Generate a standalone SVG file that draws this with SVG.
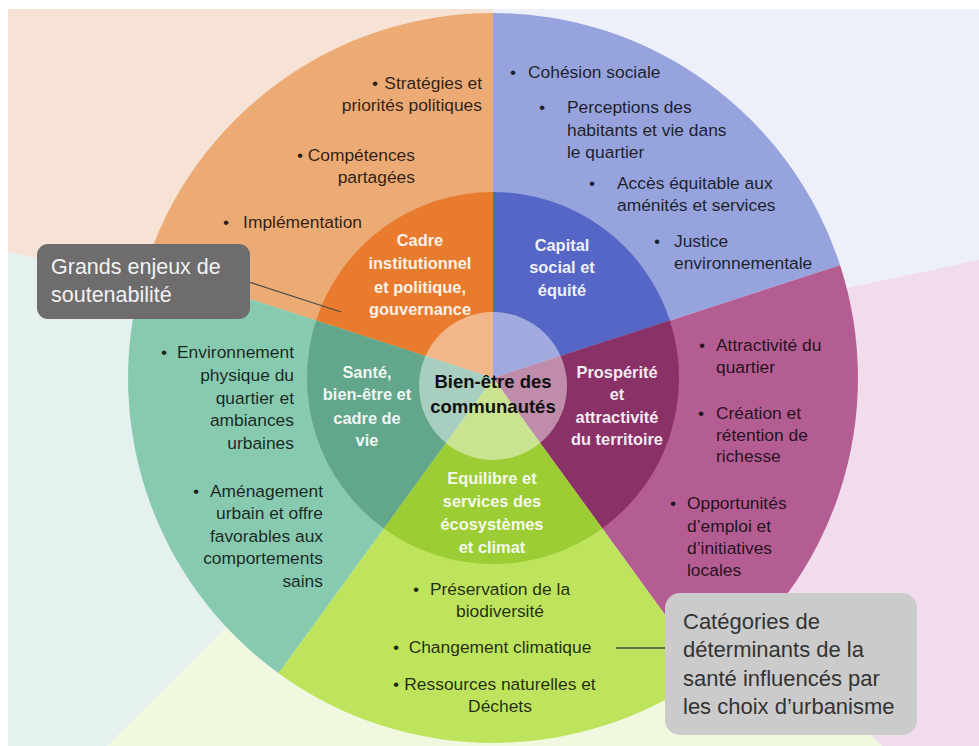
<svg xmlns="http://www.w3.org/2000/svg" width="979" height="746" viewBox="0 0 979 746">
<style>
.t{font-family:"Liberation Sans",Arial,sans-serif;font-size:17.4px;fill:#000;fill-opacity:0.82}
.e{text-anchor:end}
.m{text-anchor:middle}
.b{font-family:"Liberation Sans",Arial,sans-serif;font-size:16.4px;font-weight:bold;fill:#fff;fill-opacity:0.92;text-anchor:middle}
.c{font-family:"Liberation Sans",Arial,sans-serif;font-size:18.5px;font-weight:bold;fill:#111;text-anchor:middle}
</style>
<rect x="0" y="0" width="979" height="746" fill="#fff"/>
<g id="background">
<polygon points="8,9 493,9 493,362 8,252" fill="#F7E3D5"/>
<polygon points="493,9 979,9 979,260 493,362" fill="#EEF0F9"/>
<polygon points="979,260 979,746 882,746 493,362" fill="#F1DCEB"/>
<polygon points="882,746 107,746 493,362" fill="#F0F8E0"/>
<polygon points="107,746 8,746 8,252 493,362" fill="#E4F1EE"/>
</g>
<g id="node-cadre">
<path d="M493,378 L145.9,265.2 A365,365 0 0 1 493,13 Z" fill="#ECAA74"/>
<path d="M493,378 L316.1,320.5 A186,186 0 0 1 493,192 Z" fill="#E87B2D"/>
<text class="t" x="372" y="89">•</text>
<text class="t e" x="482" y="89">Stratégies et</text>
<text class="t e" x="482" y="111">priorités politiques</text>
<text class="t" x="297" y="161">•</text>
<text class="t e" x="415" y="161">Compétences</text>
<text class="t e" x="415" y="183">partagées</text>
<text class="t" x="223" y="228">•</text>
<text class="t e" x="362" y="228">Implémentation</text>
<text class="b" x="420" y="246">Cadre</text>
<text class="b" x="420" y="269">institutionnel</text>
<text class="b" x="420" y="293">et politique,</text>
<text class="b" x="420" y="315">gouvernance</text>
</g>
<g id="node-capital">
<path d="M493,378 L493,13 A365,365 0 0 1 840.1,265.2 Z" fill="#97A3DC"/>
<path d="M493,378 L493,192 A186,186 0 0 1 669.9,320.5 Z" fill="#5666C7"/>
<text class="t" x="510" y="78">•</text>
<text class="t" x="528" y="78">Cohésion sociale</text>
<text class="t" x="539" y="113">•</text>
<text class="t" x="567" y="113">Perceptions des</text>
<text class="t" x="567" y="136">habitants et vie dans</text>
<text class="t" x="567" y="158">le quartier</text>
<text class="t" x="589" y="189">•</text>
<text class="t" x="617" y="189">Accès équitable aux</text>
<text class="t" x="617" y="211">aménités et services</text>
<text class="t" x="654" y="247">•</text>
<text class="t" x="674" y="247">Justice</text>
<text class="t" x="674" y="269">environnementale</text>
<text class="b" x="562" y="251">Capital</text>
<text class="b" x="562" y="273">social et</text>
<text class="b" x="562" y="296">équité</text>
</g>
<g id="node-prosperite">
<path d="M493,378 L840.1,265.2 A365,365 0 0 1 707.5,673.3 Z" fill="#B45D93"/>
<path d="M493,378 L669.9,320.5 A186,186 0 0 1 602.3,528.5 Z" fill="#8A3167"/>
<text class="t" x="699" y="351">•</text>
<text class="t" x="716" y="351">Attractivité du</text>
<text class="t" x="716" y="373">quartier</text>
<text class="t" x="698" y="419">•</text>
<text class="t" x="716" y="419">Création et</text>
<text class="t" x="716" y="441">rétention de</text>
<text class="t" x="716" y="462">richesse</text>
<text class="t" x="670" y="509">•</text>
<text class="t" x="687" y="509">Opportunités</text>
<text class="t" x="687" y="532">d’emploi et</text>
<text class="t" x="687" y="554">d’initiatives</text>
<text class="t" x="687" y="576">locales</text>
<text class="b" x="617" y="378">Prospérité</text>
<text class="b" x="617" y="400">et</text>
<text class="b" x="617" y="423">attractivité</text>
<text class="b" x="617" y="445">du territoire</text>
</g>
<g id="node-equilibre">
<path d="M493,378 L707.5,673.3 A365,365 0 0 1 278.5,673.3 Z" fill="#BDE45C"/>
<path d="M493,378 L602.3,528.5 A186,186 0 0 1 383.7,528.5 Z" fill="#9DCD35"/>
<text class="t" x="413" y="595">•</text>
<text class="t m" x="500" y="595">Préservation de la</text>
<text class="t m" x="500" y="617">biodiversité</text>
<text class="t" x="393" y="653">•</text>
<text class="t m" x="500" y="653">Changement climatique</text>
<text class="t" x="393" y="690">•</text>
<text class="t m" x="500" y="690">Ressources naturelles et</text>
<text class="t m" x="500" y="712">Déchets</text>
<text class="b" x="492" y="484">Equilibre et</text>
<text class="b" x="492" y="507">services des</text>
<text class="b" x="492" y="530">écosystèmes</text>
<text class="b" x="492" y="553">et climat</text>
</g>
<g id="node-sante">
<path d="M493,378 L278.5,673.3 A365,365 0 0 1 145.9,265.2 Z" fill="#87CAB0"/>
<path d="M493,378 L383.7,528.5 A186,186 0 0 1 316.1,320.5 Z" fill="#62A68B"/>
<text class="t" x="161" y="358">•</text>
<text class="t e" x="294" y="358">Environnement</text>
<text class="t e" x="294" y="381">physique du</text>
<text class="t e" x="294" y="404">quartier et</text>
<text class="t e" x="294" y="426">ambiances</text>
<text class="t e" x="294" y="449">urbaines</text>
<text class="t" x="193" y="497">•</text>
<text class="t e" x="323" y="497">Aménagement</text>
<text class="t e" x="323" y="519">urbain et offre</text>
<text class="t e" x="323" y="542">favorables aux</text>
<text class="t e" x="323" y="564">comportements</text>
<text class="t e" x="323" y="587">sains</text>
<text class="b" x="367" y="378">Santé,</text>
<text class="b" x="367" y="400">bien-être et</text>
<text class="b" x="367" y="424">cadre de</text>
<text class="b" x="367" y="446">vie</text>
</g>
<g id="node-center">
<circle cx="493" cy="386" r="74" fill="#fff" fill-opacity="0.45"/>
<text class="c" x="493" y="388">Bien-être des</text>
<text class="c" x="493" y="413">communautés</text>
</g>
<g id="connectors" stroke="#4a4a4a" stroke-width="1.3" fill="none">
<line x1="249" y1="282" x2="341" y2="312"/>
<line x1="616" y1="648" x2="665" y2="648"/>
</g>
<g id="callout-enjeux">
<rect x="37" y="244" width="213" height="75" rx="11" fill="#6E6C6C"/>
<text x="51" y="274" font-family="Liberation Sans, Arial, sans-serif" font-size="21.5" fill="#F2F2F2">Grands enjeux de</text>
<text x="51" y="302" font-family="Liberation Sans, Arial, sans-serif" font-size="21.5" fill="#F2F2F2">soutenabilité</text>
</g>
<g id="callout-categories">
<rect x="665" y="593" width="252" height="142" rx="15" fill="#CBCBCB"/>
<g font-family="Liberation Sans, Arial, sans-serif" font-size="22" fill="#333">
<text x="683" y="629">Catégories de</text>
<text x="683" y="657">déterminants de la</text>
<text x="683" y="686">santé influencés par</text>
<text x="683" y="714">les choix d’urbanisme</text>
</g>
</g>
</svg>
